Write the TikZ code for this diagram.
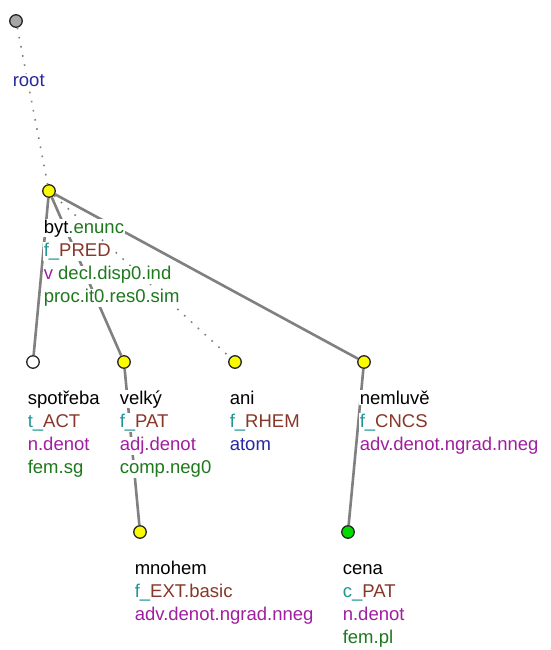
\documentclass[tikz,border=0pt]{standalone}
\usepackage{fontspec}
\setmainfont{Liberation Sans}
\definecolor{funcpre}{RGB}{30,150,150}
\definecolor{func}{RGB}{135,55,40}
\definecolor{gram}{RGB}{160,30,160}
\definecolor{attr}{RGB}{30,120,30}
\definecolor{nblue}{RGB}{40,40,160}
\definecolor{nyellow}{RGB}{250,250,0}
\definecolor{ngreen}{RGB}{0,220,0}
\tikzset{
  tnode/.style={circle,draw=black!85,line width=1.3pt,minimum size=12.5pt,inner sep=0pt},
  edge/.style={draw=gray,line width=2.6pt},
  auxedge/.style={draw=gray,line width=1.6pt,dash pattern=on 1.6pt off 7.7pt},
  lab/.style={anchor=base west,fill=white,inner sep=0.6pt,font=\fontsize{18.5}{22}\selectfont}
}
\begin{document}
\begin{tikzpicture}[x=1pt,y=-1pt]
   \useasboundingbox (0,0) rectangle (550,650);

   % tree nodes
   \node[tnode,fill=gray!70] (root) at (16,21) {};
   \node[tnode,fill=nyellow] (byt) at (49,191) {};
   \node[tnode,fill=white] (spotreba) at (33,362) {};
   \node[tnode,fill=nyellow] (velky) at (124,362) {};
   \node[tnode,fill=nyellow] (ani) at (235,362) {};
   \node[tnode,fill=nyellow] (nemluve) at (364,362) {};
   \node[tnode,fill=nyellow] (mnohem) at (140,532) {};
   \node[tnode,fill=ngreen] (cena) at (348,532) {};

   % edges
   \draw[auxedge] (root) -- (byt);
   \draw[edge] (byt) -- (spotreba);
   \draw[edge] (byt) -- (velky);
   \draw[auxedge] (byt) -- (ani);
   \draw[edge] (byt) -- (nemluve);
   \draw[edge] (velky) -- (mnohem);
   \draw[edge] (nemluve) -- (cena);

   % labels
   \node[lab] (rootA) at (12,87) {\textcolor{nblue}{root}};

   \node[lab] (bytA) at (43,233) {byt\textcolor{attr}{.enunc}};
   \node[lab] (bytB) at (43,256.3) {\textcolor{funcpre}{f\_}\textcolor{func}{PRED}};
   \node[lab] (bytC) at (43,279.6) {\textcolor{gram}{v} \textcolor{attr}{decl.disp0.ind}};
   \node[lab] (bytD) at (43,302.9) {\textcolor{attr}{proc.it0.res0.sim}};

   \node[lab] (spotrebaA) at (27,404) {spotřeba};
   \node[lab] (spotrebaB) at (27,427.3) {\textcolor{funcpre}{t\_}\textcolor{func}{ACT}};
   \node[lab] (spotrebaC) at (27,450.6) {\textcolor{gram}{n.denot}};
   \node[lab] (spotrebaD) at (27,473.9) {\textcolor{attr}{fem.sg}};

   \node[lab] (velkyA) at (119,404) {velký};
   \node[lab] (velkyB) at (119,427.3) {\textcolor{funcpre}{f\_}\textcolor{func}{PAT}};
   \node[lab] (velkyC) at (119,450.6) {\textcolor{gram}{adj.denot}};
   \node[lab] (velkyD) at (119,473.9) {\textcolor{attr}{comp.neg0}};

   \node[lab] (aniA) at (229,404) {ani};
   \node[lab] (aniB) at (229,427.3) {\textcolor{funcpre}{f\_}\textcolor{func}{RHEM}};
   \node[lab] (aniC) at (229,450.6) {\textcolor{nblue}{atom}};

   \node[lab] (nemluveA) at (359,404) {nemluvě};
   \node[lab] (nemluveB) at (359,427.3) {\textcolor{funcpre}{f\_}\textcolor{func}{CNCS}};
   \node[lab] (nemluveC) at (359,450.6) {\textcolor{gram}{adv.denot.ngrad.nneg}};

   \node[lab] (mnohemA) at (134,574) {mnohem};
   \node[lab] (mnohemB) at (134,597.3) {\textcolor{funcpre}{f\_}\textcolor{func}{EXT.basic}};
   \node[lab] (mnohemC) at (134,620.6) {\textcolor{gram}{adv.denot.ngrad.nneg}};

   \node[lab] (cenaA) at (342,574) {cena};
   \node[lab] (cenaB) at (342,597.3) {\textcolor{funcpre}{c\_}\textcolor{func}{PAT}};
   \node[lab] (cenaC) at (342,620.6) {\textcolor{gram}{n.denot}};
   \node[lab] (cenaD) at (342,643.9) {\textcolor{attr}{fem.pl}};
\end{tikzpicture}
\end{document}
